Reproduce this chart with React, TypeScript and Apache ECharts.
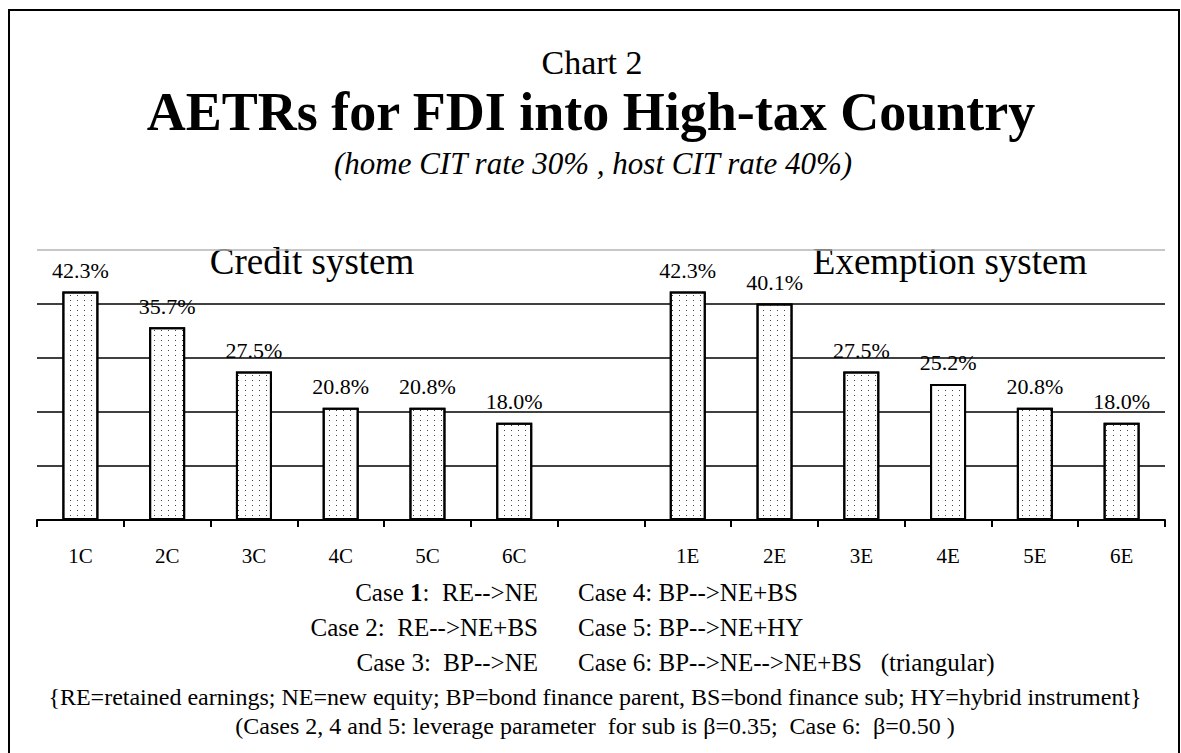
import React, { useEffect, useRef } from "react";
import * as echarts from "echarts";

const categories = ["1C", "2C", "3C", "4C", "5C", "6C", "", "1E", "2E", "3E", "4E", "5E", "6E"];
const creditValues = [42.3, 35.7, 27.5, 20.8, 20.8, 18.0];
const exemptionValues = [42.3, 40.1, 27.5, 25.2, 20.8, 18.0];
const yTicks = [0, 10, 20, 30, 40, 50];

const SERIF = "Liberation Serif";

export default function App() {
  const ref = useRef<HTMLDivElement>(null);
  useEffect(() => {
    if (!ref.current) return;
    const chart = echarts.init(ref.current, null, { renderer: "svg" });
    const data: (number | string)[] = [...creditValues, "-", ...exemptionValues];
    const t = (text: string, x: number, y: number, size: number, extra: any = {}) => ({
      type: "text",
      x,
      y,
      silent: true,
      style: {
        text,
        fill: "#000",
        fontSize: size,
        fontFamily: SERIF,
        align: "center",
        verticalAlign: "middle",
        ...extra,
      },
    });
    const caseRich = {
      b: { fontWeight: "bold", fontSize: 25, fontFamily: SERIF, fill: "#000" },
    };
    chart.setOption({
      animation: false,
      backgroundColor: "#fff",
      textStyle: { fontFamily: SERIF },
      grid: { left: 37, right: 16, top: 250, bottom: 233 },
      xAxis: {
        type: "category",
        data: categories,
        axisLine: { lineStyle: { color: "#000", width: 2 } },
        axisTick: { show: true, length: 7, lineStyle: { color: "#000", width: 2 } },
        axisLabel: { color: "#000", fontSize: 21, fontFamily: SERIF, margin: 25 },
      },
      yAxis: {
        type: "value",
        min: yTicks[0],
        max: yTicks[yTicks.length - 1],
        interval: 10,
        axisLabel: { show: false },
        axisLine: { show: false },
        axisTick: { show: false },
        splitLine: {
          lineStyle: { color: ["#000", "#000", "#000", "#000", "#000", "#b5b5b5"], width: 1.5 },
        },
      },
      series: [
        {
          type: "bar",
          data,
          barWidth: 36,
          itemStyle: {
            color: "#fff",
            borderColor: "#000",
            borderWidth: 2,
            decal: {
              symbol: "rect",
              symbolSize: 1,
              color: "#444",
              dashArrayX: [1, 6],
              dashArrayY: [1, 4],
              rotation: 0,
            },
          },
          label: {
            show: true,
            position: "top",
            distance: 10,
            fontSize: 22,
            lineHeight: 22,
            fontFamily: SERIF,
            color: "#000",
            formatter: (p: any) => Number(p.value).toFixed(1) + "%",
          },
        },
      ],
      graphic: [
        {
          type: "rect",
          silent: true,
          shape: { x: 9, y: 10, width: 1170, height: 760 },
          style: { fill: "none", stroke: "#000", lineWidth: 2 },
        },
        t("Chart 2", 592, 62, 34),
        t("AETRs for FDI into High-tax Country", 591, 112, 54, { fontWeight: "bold" }),
        t("(home CIT rate 30% , host CIT rate 40%)", 593, 163, 31, { fontStyle: "italic" }),
        t("Credit system", 312, 261, 37),
        t("Exemption system", 950, 261, 37),
        t("Case {b|1}:  RE-->NE", 538, 592, 25, { align: "right", rich: caseRich }),
        t("Case 2:  RE-->NE+BS", 538, 627, 25, { align: "right" }),
        t("Case 3:  BP-->NE", 538, 662, 25, { align: "right" }),
        t("Case 4: BP-->NE+BS", 578, 592, 25, { align: "left" }),
        t("Case 5: BP-->NE+HY", 578, 627, 25, { align: "left" }),
        t("Case 6: BP-->NE-->NE+BS   (triangular)", 578, 662, 25, { align: "left" }),
        t(
          "{RE=retained earnings; NE=new equity; BP=bond finance parent, BS=bond finance sub; HY=hybrid instrument}",
          595,
          697,
          24
        ),
        t("(Cases 2, 4 and 5: leverage parameter  for sub is β=0.35;  Case 6:  β=0.50 )", 595, 726, 24),
      ],
    });
    return () => chart.dispose();
  }, []);
  return (
    <div
      ref={ref}
      style={{ position: "absolute", left: 0, top: 0, width: 1181, height: 753 }}
    />
  );
}
